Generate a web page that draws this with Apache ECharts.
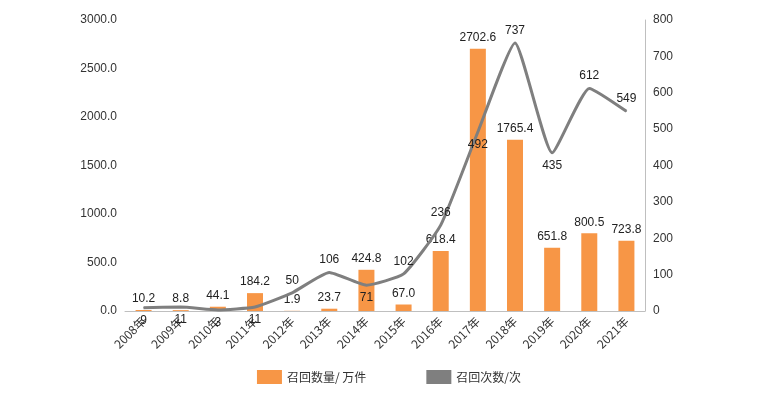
<!DOCTYPE html>
<html><head><meta charset="utf-8">
<script src="https://cdn.jsdelivr.net/npm/echarts@6/dist/echarts.min.js"></script>
<style>body{margin:0}#c{width:778px;height:407px}</style></head>
<body><div id="c"></div>
<script>
const categories=['2008年','2009年','2010年','2011年','2012年','2013年','2014年','2015年','2016年','2017年','2018年','2019年','2020年','2021年'];
const recallQty=[10.2,8.8,44.1,184.2,1.9,23.7,424.8,67.0,618.4,2702.6,1765.4,651.8,800.5,723.8];
const recallTimes=[9,11,3,11,50,106,71,102,236,492,737,435,612,549];
const linePos=['bottom','bottom','bottom','bottom','top','top','bottom','top','top','bottom','top','bottom','top','top'];
const font='"Microsoft YaHei","Noto Sans CJK SC",sans-serif';
const chart=echarts.init(document.getElementById('c'));
chart.setOption({
  animation:false,
  grid:{left:125,right:133,top:20,bottom:96},
  legend:{bottom:18,left:'center',itemGap:60,textStyle:{fontSize:12,color:'#333',fontFamily:font},
    data:[{name:'召回数量/ 万件',icon:'rect',itemWidth:40,itemHeight:6},{name:'召回次数/次',icon:'rect',itemWidth:40,itemHeight:3}]},
  xAxis:{type:'category',data:categories,axisTick:{show:false},
    axisLine:{lineStyle:{color:'#bfbfbf'}},
    axisLabel:{rotate:45,color:'#333',fontSize:12,fontFamily:font,interval:0}},
  yAxis:[
    {type:'value',min:0,max:3000,interval:500,splitLine:{show:false},axisLine:{show:false},
     axisLabel:{color:'#333',fontSize:12,formatter:v=>v.toFixed(1)}},
    {type:'value',min:0,max:800,interval:100,splitLine:{show:false},axisLine:{show:true,lineStyle:{color:'#bfbfbf'}},
     axisLabel:{color:'#333',fontSize:12}}
  ],
  series:[
    {name:'召回数量/ 万件',type:'bar',data:recallQty,barWidth:16,itemStyle:{color:'#F79646'},
     label:{show:true,position:'top',color:'#222',fontSize:12,formatter:p=>p.value.toFixed(1)}},
    {name:'召回次数/次',type:'line',yAxisIndex:1,smooth:0.15,symbol:'circle',symbolSize:1,showSymbol:true,
     data:recallTimes.map((v,i)=>({value:v,label:{show:true,position:linePos[i]}})),
     lineStyle:{color:'#7f7f7f',width:3},itemStyle:{color:'#7f7f7f'},
     label:{show:true,color:'#222',fontSize:12,distance:6}}
  ]
});
</script></body></html>
